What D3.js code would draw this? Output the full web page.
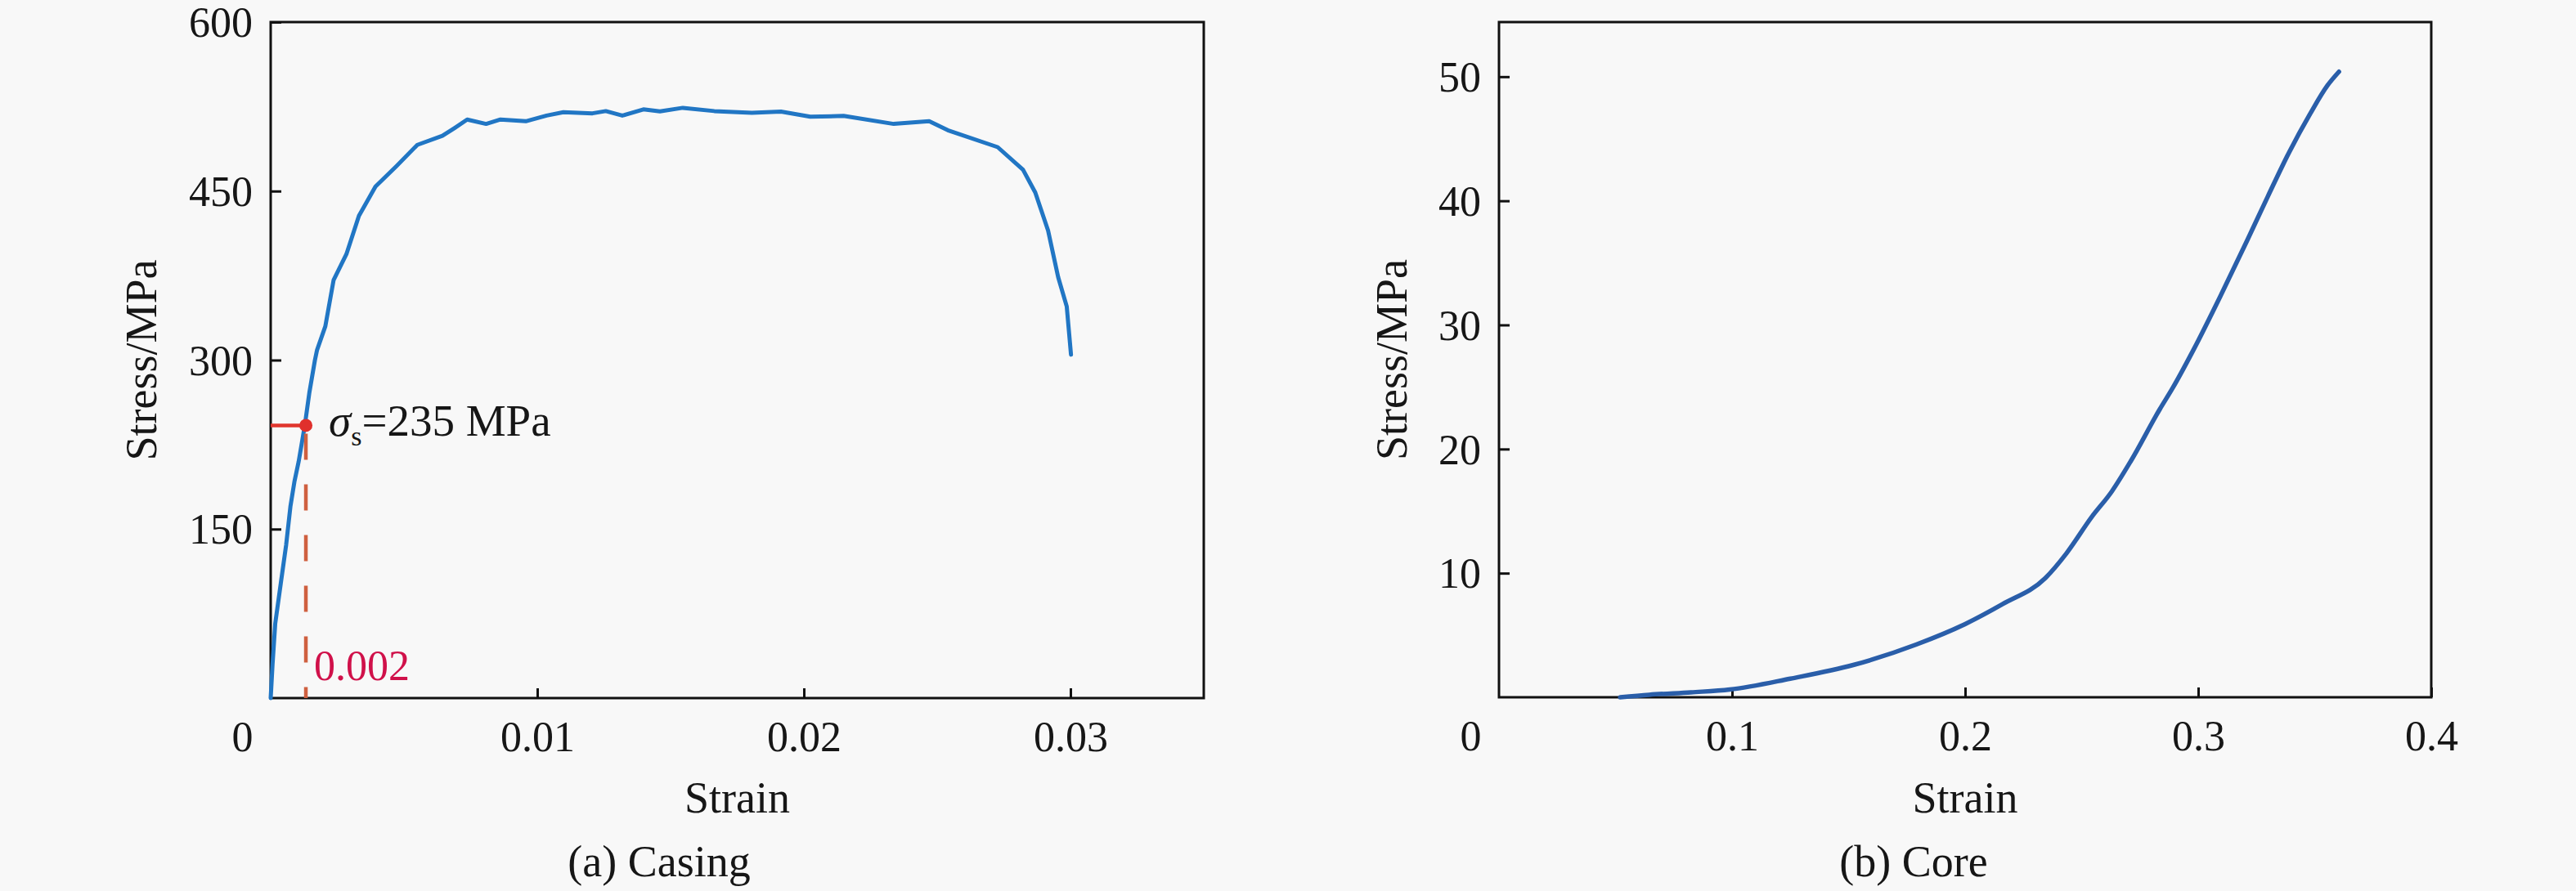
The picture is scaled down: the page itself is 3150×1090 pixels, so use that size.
<!DOCTYPE html>
<html>
<head>
<meta charset="utf-8">
<script src="https://cdn.jsdelivr.net/npm/d3@7"></script>
<style>
  html, body { margin: 0; padding: 0; background: #f8f8f8; }
  svg { display: block; }
  text { font-family: "Liberation Serif", "Times New Roman", serif; fill: #161616; }
</style>
</head>
<body>
<svg id="chart" width="3150" height="1090"></svg>
<script>
// ---------------- data ----------------
const casingStrain = [0, 0.00007, 0.00017, 0.00038, 0.00058, 0.00074, 0.00089, 0.00105, 0.00118, 0.00128, 0.00145,
  0.00166, 0.00174, 0.00205, 0.00236, 0.00284, 0.00331, 0.00393, 0.00471, 0.00550, 0.00644, 0.0069, 0.00737,
  0.00808, 0.00862, 0.00957, 0.01035, 0.01098, 0.01207, 0.01257, 0.01319, 0.01398, 0.0146, 0.01546, 0.01664,
  0.01805, 0.01914, 0.02024, 0.02149, 0.02337, 0.0247, 0.0254, 0.02727, 0.02822, 0.02868, 0.02916, 0.02954,
  0.02986, 0.03002];
const casingStress = [0, 30, 66, 102, 136, 170, 192, 210, 228, 242, 271,
  300, 309, 330, 371, 394, 428, 454, 472, 491, 499, 506, 513.5,
  509.6, 513.5, 512, 517, 520, 519, 521, 517, 522.5, 520.7, 523.9, 521,
  519.4, 520.5, 516, 516.7, 509.6, 512, 504, 489, 469, 448.7, 415, 373.5,
  347.6, 304.8];

const coreStrain = [0.052, 0.0645, 0.0824, 0.099, 0.125, 0.152, 0.179, 0.200, 0.216, 0.2344, 0.2435, 0.2542,
  0.263, 0.271, 0.2835, 0.289, 0.298, 0.310, 0.321, 0.330, 0.339, 0.348, 0.3555, 0.3604];
const coreStress = [0, 0.2, 0.4, 0.62, 1.5, 2.6, 4.25, 5.9, 7.5, 9.6, 11.6, 14.5,
  16.6, 19.0, 23.2, 24.9, 28.0, 32.5, 36.8, 40.4, 43.9, 47.0, 49.3, 50.4];

const casingXTicks = [0, 0.01, 0.02, 0.03];
const casingXLabels = ["0", "0.01", "0.02", "0.03"];
const casingYTicks = [150, 300, 450, 600];
const coreXTicks = [0, 0.1, 0.2, 0.3, 0.4];
const coreXLabels = ["0", "0.1", "0.2", "0.3", "0.4"];
const coreYTicks = [10, 20, 30, 40, 50];

const yieldPoint = [0.00132, 242];      // plotted position of the yield marker
const yieldStressText = "=235 MPa";
const yieldStrainText = "0.002";

const xTitle = "Strain";
const yTitle = "Stress/MPa";
const captions = ["(a) Casing", "(b) Core"];

// ---------------- drawing ----------------
const svg = d3.select("#chart");
svg.append("rect").attr("width", 3150).attr("height", 1090).attr("fill", "#f8f8f8");

const TICK_FONT = 52, TITLE_FONT = 54;

function panel(cfg) {
  const x = d3.scaleLinear().domain(cfg.xDomain).range([cfg.left, cfg.right]);
  const y = d3.scaleLinear().domain(cfg.yDomain).range([cfg.bottom, cfg.top]);
  const g = svg.append("g");

  // x axis (ticks pointing inward)
  const xa = g.append("g").attr("transform", `translate(0,${cfg.bottom})`)
    .call(d3.axisBottom(x).tickValues(cfg.xTicks).tickSizeInner(-12).tickSizeOuter(0)
      .tickFormat((d, i) => cfg.xLabels[i]));
  xa.select(".domain").remove();
  xa.selectAll(".tick line").attr("stroke", "#111").attr("stroke-width", 3);
  xa.selectAll(".tick text").attr("y", 65).attr("dy", 0)
    .style("font-size", TICK_FONT + "px").style("font-family", "Liberation Serif").attr("fill", "#161616");
  xa.selectAll(".tick").filter(d => d === 0).select("text").attr("x", -35);
  xa.selectAll(".tick").filter(d => d === 0).select("line").remove();

  // y axis
  const ya = g.append("g").attr("transform", `translate(${cfg.left},0)`)
    .call(d3.axisLeft(y).tickValues(cfg.yTicks).tickSizeInner(-13).tickSizeOuter(0).tickPadding(22)
      .tickFormat(d3.format("d")));
  ya.select(".domain").remove();
  ya.selectAll(".tick line").attr("stroke", "#111").attr("stroke-width", 3);
  ya.selectAll(".tick text").attr("dy", "0.34em")
    .style("font-size", TICK_FONT + "px").style("font-family", "Liberation Serif").attr("fill", "#161616");

  // frame
  g.append("rect").attr("x", cfg.left).attr("y", cfg.top)
    .attr("width", cfg.right - cfg.left).attr("height", cfg.bottom - cfg.top)
    .attr("fill", "none").attr("stroke", "#111").attr("stroke-width", 3);

  // titles
  g.append("text").attr("x", (cfg.left + cfg.right) / 2).attr("y", 994)
    .attr("text-anchor", "middle").style("font-size", TITLE_FONT + "px").text(xTitle);
  g.append("text").attr("transform", `translate(${cfg.yTitleX},${(cfg.top + cfg.bottom) / 2}) rotate(-90)`)
    .attr("text-anchor", "middle").style("font-size", TITLE_FONT + "px").text(yTitle);
  g.append("text").attr("x", cfg.captionX).attr("y", 1072)
    .attr("text-anchor", "middle").style("font-size", TITLE_FONT + "px").text(cfg.caption);

  return { g, x, y };
}

// ---- (a) Casing ----
const A = panel({
  left: 331, right: 1472, top: 27, bottom: 854,
  xDomain: [0, 0.035], yDomain: [0, 600],
  xTicks: casingXTicks, xLabels: casingXLabels, yTicks: casingYTicks,
  yTitleX: 191, captionX: 806, caption: captions[0]
});

const casingData = casingStrain.map((s, i) => [s, casingStress[i]]);
A.g.append("path").datum(casingData)
  .attr("fill", "none").attr("stroke", "#2176c4").attr("stroke-width", 5)
  .attr("stroke-linejoin", "round").attr("stroke-linecap", "round")
  .attr("d", d3.line().x(d => A.x(d[0])).y(d => A.y(d[1])));

// yield annotation
A.g.append("line")
  .attr("x1", A.x(yieldPoint[0])).attr("x2", A.x(yieldPoint[0]))
  .attr("y1", A.y(yieldPoint[1]) + 10).attr("y2", A.y(0))
  .attr("stroke", "#cf6040").attr("stroke-width", 4.5).attr("stroke-dasharray", "32,30");
A.g.append("line")
  .attr("x1", A.x(0)).attr("x2", A.x(yieldPoint[0]))
  .attr("y1", A.y(yieldPoint[1])).attr("y2", A.y(yieldPoint[1]))
  .attr("stroke", "#e0362e").attr("stroke-width", 4.5);
A.g.append("circle").attr("cx", A.x(yieldPoint[0])).attr("cy", A.y(yieldPoint[1])).attr("r", 8)
  .attr("fill", "#e0302c");

const sig = A.g.append("text").attr("y", A.y(yieldPoint[1]) + 13).style("font-size", "55px");
sig.append("tspan").attr("x", A.x(yieldPoint[0]) + 28).style("font-style", "italic").text("σ");
sig.append("tspan").attr("dy", 12).style("font-size", "34px").text("s");
sig.append("tspan").attr("dy", -12).text(yieldStressText);

A.g.append("text").attr("x", A.x(yieldPoint[0]) + 10).attr("y", 832)
  .style("font-size", "52px").style("fill", "#d0114a").text(yieldStrainText);

// ---- (b) Core ----
const B = panel({
  left: 1833, right: 2973, top: 27, bottom: 853,
  xDomain: [0, 0.4], yDomain: [0, 54.4],
  xTicks: coreXTicks, xLabels: coreXLabels, yTicks: coreYTicks,
  yTitleX: 1720, captionX: 2340, caption: captions[1]
});

const coreData = coreStrain.map((s, i) => [s, coreStress[i]]);
B.g.append("path").datum(coreData)
  .attr("fill", "none").attr("stroke", "#2a5ea9").attr("stroke-width", 5.5)
  .attr("stroke-linejoin", "round").attr("stroke-linecap", "round")
  .attr("d", d3.line().curve(d3.curveMonotoneX).x(d => B.x(d[0])).y(d => B.y(d[1])));
</script>
</body>
</html>
